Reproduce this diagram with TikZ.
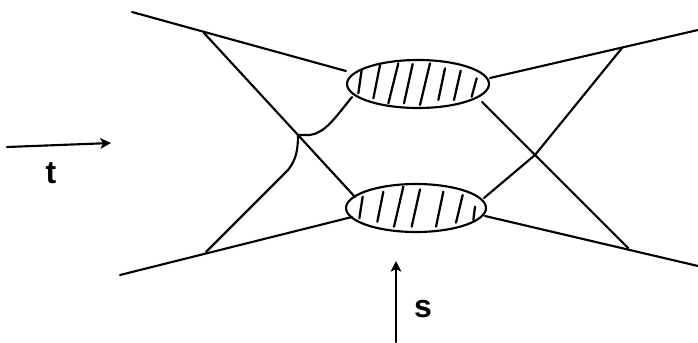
\documentclass[tikz,border=0pt]{standalone}
\usepackage{fontspec}
\setmainfont{Liberation Sans}
\usetikzlibrary{arrows.meta,shapes.geometric}
\tikzset{
  ink/.style={draw=black,line width=1.6pt,line cap=round,line join=round},
  blob/.style={ellipse,draw=black,line width=1.6pt,fill=white,inner sep=0pt},
  hatch/.style={draw=black,line width=1.7pt,line cap=round},
  lbl/.style={font=\fontsize{24}{26}\selectfont\bfseries,inner sep=0pt},
  tip/.style={-{Stealth[length=8pt,width=8pt,inset=2pt]}}
}
\begin{document}
\begin{tikzpicture}[x=0.75pt,y=-0.75pt]
\useasboundingbox (0,0) rectangle (698,342);
% free ends
\coordinate (tl) at (132,12);
\coordinate (bl) at (120,275);
\coordinate (tr) at (698,30);
\coordinate (br) at (698,266);
\coordinate (il1) at (204,33);
\coordinate (il2) at (206,252);
\coordinate (ir1) at (622,48);
\coordinate (ir2) at (628,248);
\coordinate (cl) at (298,135);
\coordinate (cr) at (535,155);
\coordinate (ta) at (7,147);
\coordinate (tb) at (111,143);
\coordinate (sa) at (396,342);
\coordinate (sb) at (396,261);
% blobs
\node[blob,minimum width=142pt*0.75,minimum height=48pt*0.75] (U) at (418,84) {};
\node[blob,minimum width=140pt*0.75,minimum height=48pt*0.75] (D) at (416,208) {};
% hatching, upper blob
\begin{scope}[shift={(330,40)},x=.25pt,y=-.25pt]
\draw[hatch] (95,90)--(85,160) (150,75)--(130,175) (205,70)--(175,190) (248,72)--(222,190)
 (300,70)--(270,195) (345,85)--(325,180) (392,92)--(372,180) (440,115)--(425,170);
\draw[hatch] (98,470)--(88,535) (160,455)--(142,545) (220,440)--(192,560) (270,448)--(245,560)
 (340,455)--(318,560) (398,465)--(378,548) (435,500)--(430,540);
\end{scope}
% external legs
\draw[ink] (tl) -- (U.west |- 0,71) ++(5,0);
\draw[ink] (bl) -- (352,217);
\draw[ink] (tr) -- (490,78);
\draw[ink] (br) -- (485,216);
% internal lines
\draw[ink] (il1) -- (cl) -- (355,197);
\draw[ink] (il2) -- (288,170) .. controls (296,160) and (298,150) .. (cl)
  -- (310,135) .. controls (325,133) and (335,118) .. (352,97);
\draw[ink] (482,102) -- (cr) -- (ir2);
\draw[ink] (484,198) -- (cr) -- (ir1);
% momentum arrows
\draw[ink,tip] (ta) -- (tb);
\draw[ink,tip] (sa) -- (sb);
\node[lbl] (t) at (51,173) {t};
\node[lbl] (s) at (423,309) {s};
\end{tikzpicture}
\end{document}
